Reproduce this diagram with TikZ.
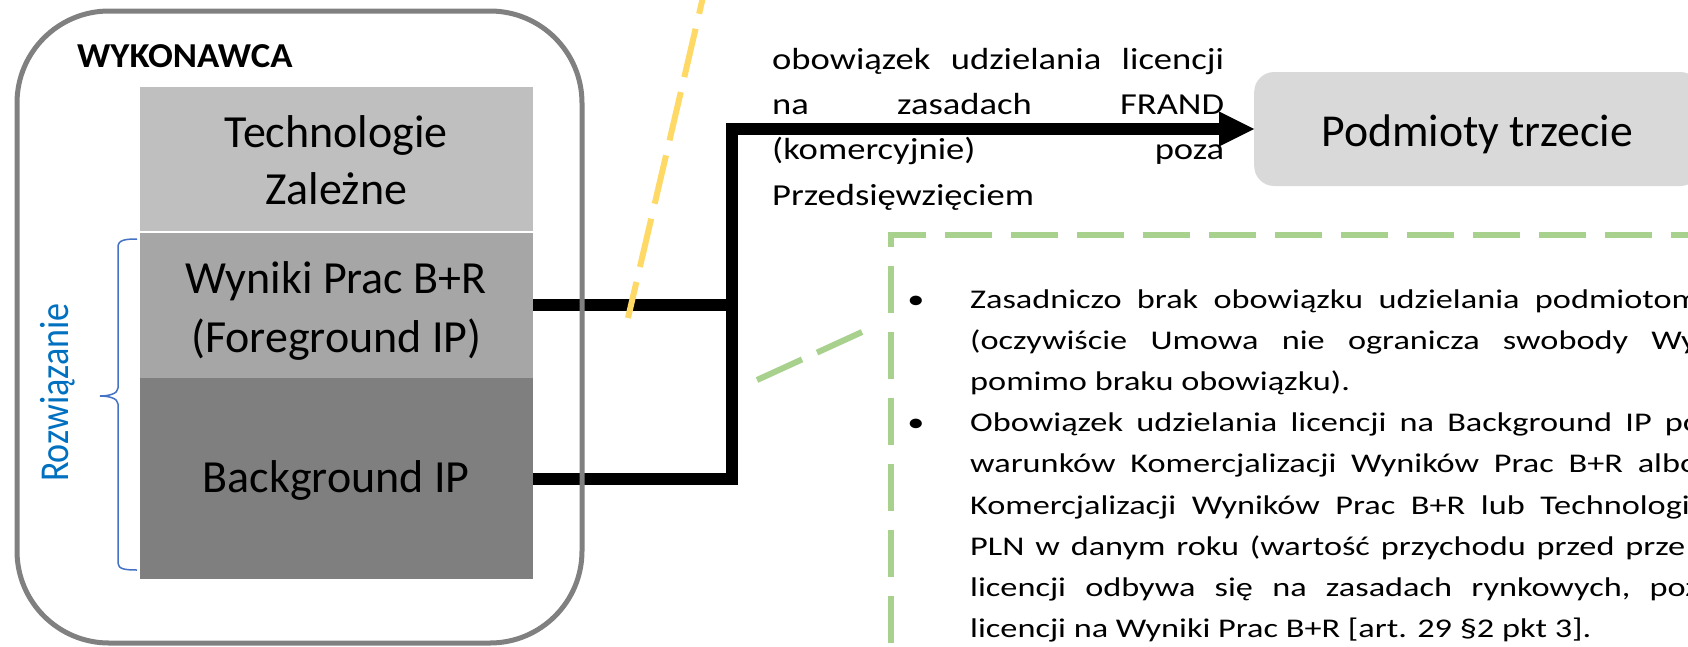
\documentclass[tikz,border=0pt]{standalone}
\usepackage{fontspec}
\setmainfont{Carlito}
\newfontfamily\topfont[FakeStretch=1.2]{Carlito}
\newfontfamily\bulfont[FakeStretch=1.27]{Carlito}
\newfontfamily\rozfont[FakeStretch=0.88]{Carlito}
\newfontfamily\wykfont[FakeStretch=1.05]{Carlito}
\usetikzlibrary{arrows.meta}
\definecolor{gTech}{HTML}{BFBFBF}
\definecolor{gWyn}{HTML}{A6A6A6}
\definecolor{gBg}{HTML}{7F7F7F}
\definecolor{gOut}{HTML}{808080}
\definecolor{gPod}{HTML}{D9D9D9}
\definecolor{yel}{HTML}{FFD966}
\definecolor{grn}{HTML}{A9D18E}
\definecolor{blu}{HTML}{0070C0}
\definecolor{brc}{HTML}{4472C4}
\begin{document}
\begin{tikzpicture}[x=1pt,y=-1pt,
  stackbox/.style={minimum width=393.5pt, anchor=north west, inner sep=0pt, outer sep=0pt},
  boxtext/.style={anchor=base, inner sep=0pt, font=\fontsize{46pt}{57pt}\selectfont},
  toptext/.style={anchor=base west, inner sep=0pt, font=\topfont\fontsize{30.5pt}{45pt}\selectfont},
  bultext/.style={anchor=base west, inner sep=0pt, font=\bulfont\fontsize{27pt}{41pt}\selectfont},
  bulmark/.style={anchor=base, inner sep=0pt, font=\bulfont\fontsize{27pt}{41pt}\selectfont},
  conn/.style={line width=12pt, line join=miter, line cap=butt},
  outerframe/.style={draw=gOut, line width=5pt, rounded corners=92pt},
  yeldash/.style={draw=yel, line width=6pt, dash pattern=on 49.6pt off 15.4pt, dash phase=12.6pt},
  grndash/.style={draw=grn, line width=6pt, dash pattern=on 49.5pt off 16.5pt},
  rectdash/.style={draw=grn, line width=6pt, dash pattern=on 47.5pt off 18.5pt, dash phase=9pt, line join=miter},
  bracestyle/.style={draw=brc, line width=1.5pt}
]
\useasboundingbox (0,0) rectangle (1688,646);
\fill[white] (0,0) rectangle (1688,646);
\clip (0,0) rectangle (1688,646);

% stack of boxes
\node[stackbox, fill=gTech, minimum height=145pt] (tech) at (139.5,87) {};
\node[stackbox, fill=gWyn, minimum height=146pt] (wyn) at (139.5,232) {};
\node[stackbox, fill=gBg, minimum height=201pt] (bg) at (139.5,378) {};
\draw[white, line width=1.2pt] (tech.south west) -- (tech.south east);

\node[boxtext] (t1) at (336.3,147) {Technologie};
\node[boxtext] (t2) at (336.3,204) {Zależne};
\node[boxtext] (w1) at (336.3,293) {Wyniki Prac B+R};
\node[boxtext] (w2) at (336.3,352) {(Foreground IP)};
\node[boxtext] (b1) at (336.3,492) {Background IP};

\node[anchor=base west, inner sep=0pt, font=\wykfont\bfseries\fontsize{35pt}{42pt}\selectfont] (wyk) at (77,67) {WYKONAWCA};

% brace and label
\draw[bracestyle] (137,239) .. controls (125,239) and (118,240) .. (118,247) -- (118,388)
  .. controls (118,394) and (108,396) .. (100,396)
  .. controls (108,396) and (118,398) .. (118,404) -- (118,563)
  .. controls (118,569) and (125,570) .. (137,570);
\node[rotate=90, anchor=base, inner sep=0pt, text=blu, font=\rozfont\fontsize{41pt}{48pt}\selectfont] (roz) at (68,392.5) {Rozwiązanie};

% target box
\node[fill=gPod, rounded corners=20pt, minimum width=446pt, minimum height=114pt, anchor=west, inner sep=0pt,
  text height=34pt, text depth=0pt, font=\fontsize{45.7pt}{55pt}\selectfont] (pod) at (1254,129) {Podmioty trzecie};

% connectors
\coordinate (j) at (732,129);
\draw[conn] (wyn.east) -- (wyn.east -| j);
\draw[conn, -{Triangle[length=35pt,width=35pt,line width=0pt]}] (bg.east) -| (j) -- (pod.west);

% outer frame
\draw[outerframe] (17,11) rectangle (582,643);

% top text
\node[toptext] (o1) at (772,69.5) {\hbox to 452pt{obowiązek\hfill udzielania\hfill licencji}};
\node[toptext] (o2) at (772,114.7) {\hbox to 452pt{na\hfill zasadach\hfill FRAND}};
\node[toptext] (o3) at (772,159.9) {\hbox to 452pt{(komercyjnie)\hfill poza}};
\node[toptext] (o4) at (772,205.1) {Przedsięwzięciem};

% dashed lines
\draw[yeldash] (628,318) -- (707,-20);
\draw[grndash] (757,380) -- (862,332);
\draw[rectdash] (891,700) -- (891,234.5) -- (1760,234.5);

% bullet text
\node[bulmark] (m1) at (916,308) {•};
\node[bulmark] (m2) at (916,431) {•};
\node[bultext] (l1) at (970,308) {\hbox to 729pt{Zasadniczo\hfill brak\hfill obowiązku\hfill udzielania\hfill podmiotom}};
\node[bultext] (l2) at (970,349) {\hbox to 742pt{(oczywiście\hfill Umowa\hfill nie\hfill ogranicza\hfill swobody\hfill Wyk}};
\node[bultext] (l3) at (970,390) {pomimo braku obowiązku).};
\node[bultext] (l4) at (970,431) {\hbox to 731pt{Obowiązek\hfill udzielania\hfill licencji\hfill na\hfill Background\hfill IP\hfill po}};
\node[bultext] (l5) at (970,472) {\hbox to 728pt{warunków\hfill Komercjalizacji\hfill Wyników\hfill Prac\hfill B+R\hfill albo}};
\node[bultext] (l6) at (970,514) {\hbox to 727.5pt{Komercjalizacji\hfill Wyników\hfill Prac\hfill B+R\hfill lub\hfill Technologii}};
\node[bultext] (l7) at (970,555) {\hbox to 715pt{PLN\hfill w\hfill danym\hfill roku\hfill (wartość\hfill przychodu\hfill przed\hfill prze}};
\node[bultext] (l8) at (970,596) {\hbox to 746pt{licencji\hfill odbywa\hfill się\hfill na\hfill zasadach\hfill rynkowych,\hfill pozo}};
\node[bultext] (l9) at (970,637) {licencji na Wyniki Prac B+R [art. 29 §2 pkt 3].};
\end{tikzpicture}
\end{document}
